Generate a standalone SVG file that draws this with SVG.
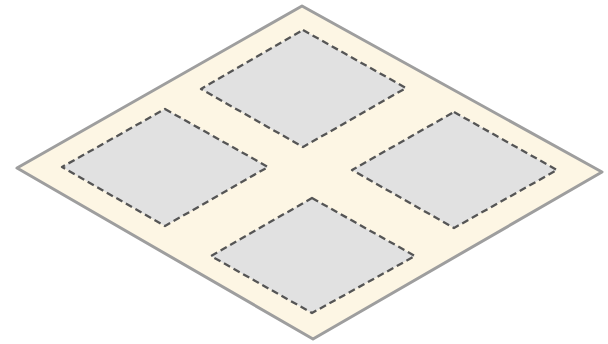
<svg xmlns="http://www.w3.org/2000/svg" width="608" height="344" viewBox="0 0 608 344">
  <style>
    .ground { fill: #fdf6e4; stroke: #9e9e9e; stroke-width: 3; stroke-linejoin: round; }
    .plot { fill: #e1e1e1; stroke: #555555; stroke-width: 2.3; stroke-dasharray: 7 4; stroke-linejoin: round; }
  </style>
  <rect width="608" height="344" fill="#ffffff"/>
  <g id="ground">
    <polygon class="ground" points="302,6 602,172 313,339 17,168"/>
  </g>
  <g id="plot-top">
    <polygon class="plot" points="303,30 406,88 303,147 201,89"/>
  </g>
  <g id="plot-left">
    <polygon class="plot" points="165,109 268,167 165,226 62,167"/>
  </g>
  <g id="plot-right">
    <polygon class="plot" points="454,112 557,170 454,228 352,170"/>
  </g>
  <g id="plot-bottom">
    <polygon class="plot" points="312,198 415,256 312,313 211,256"/>
  </g>
  <g id="connectors"/>
</svg>
